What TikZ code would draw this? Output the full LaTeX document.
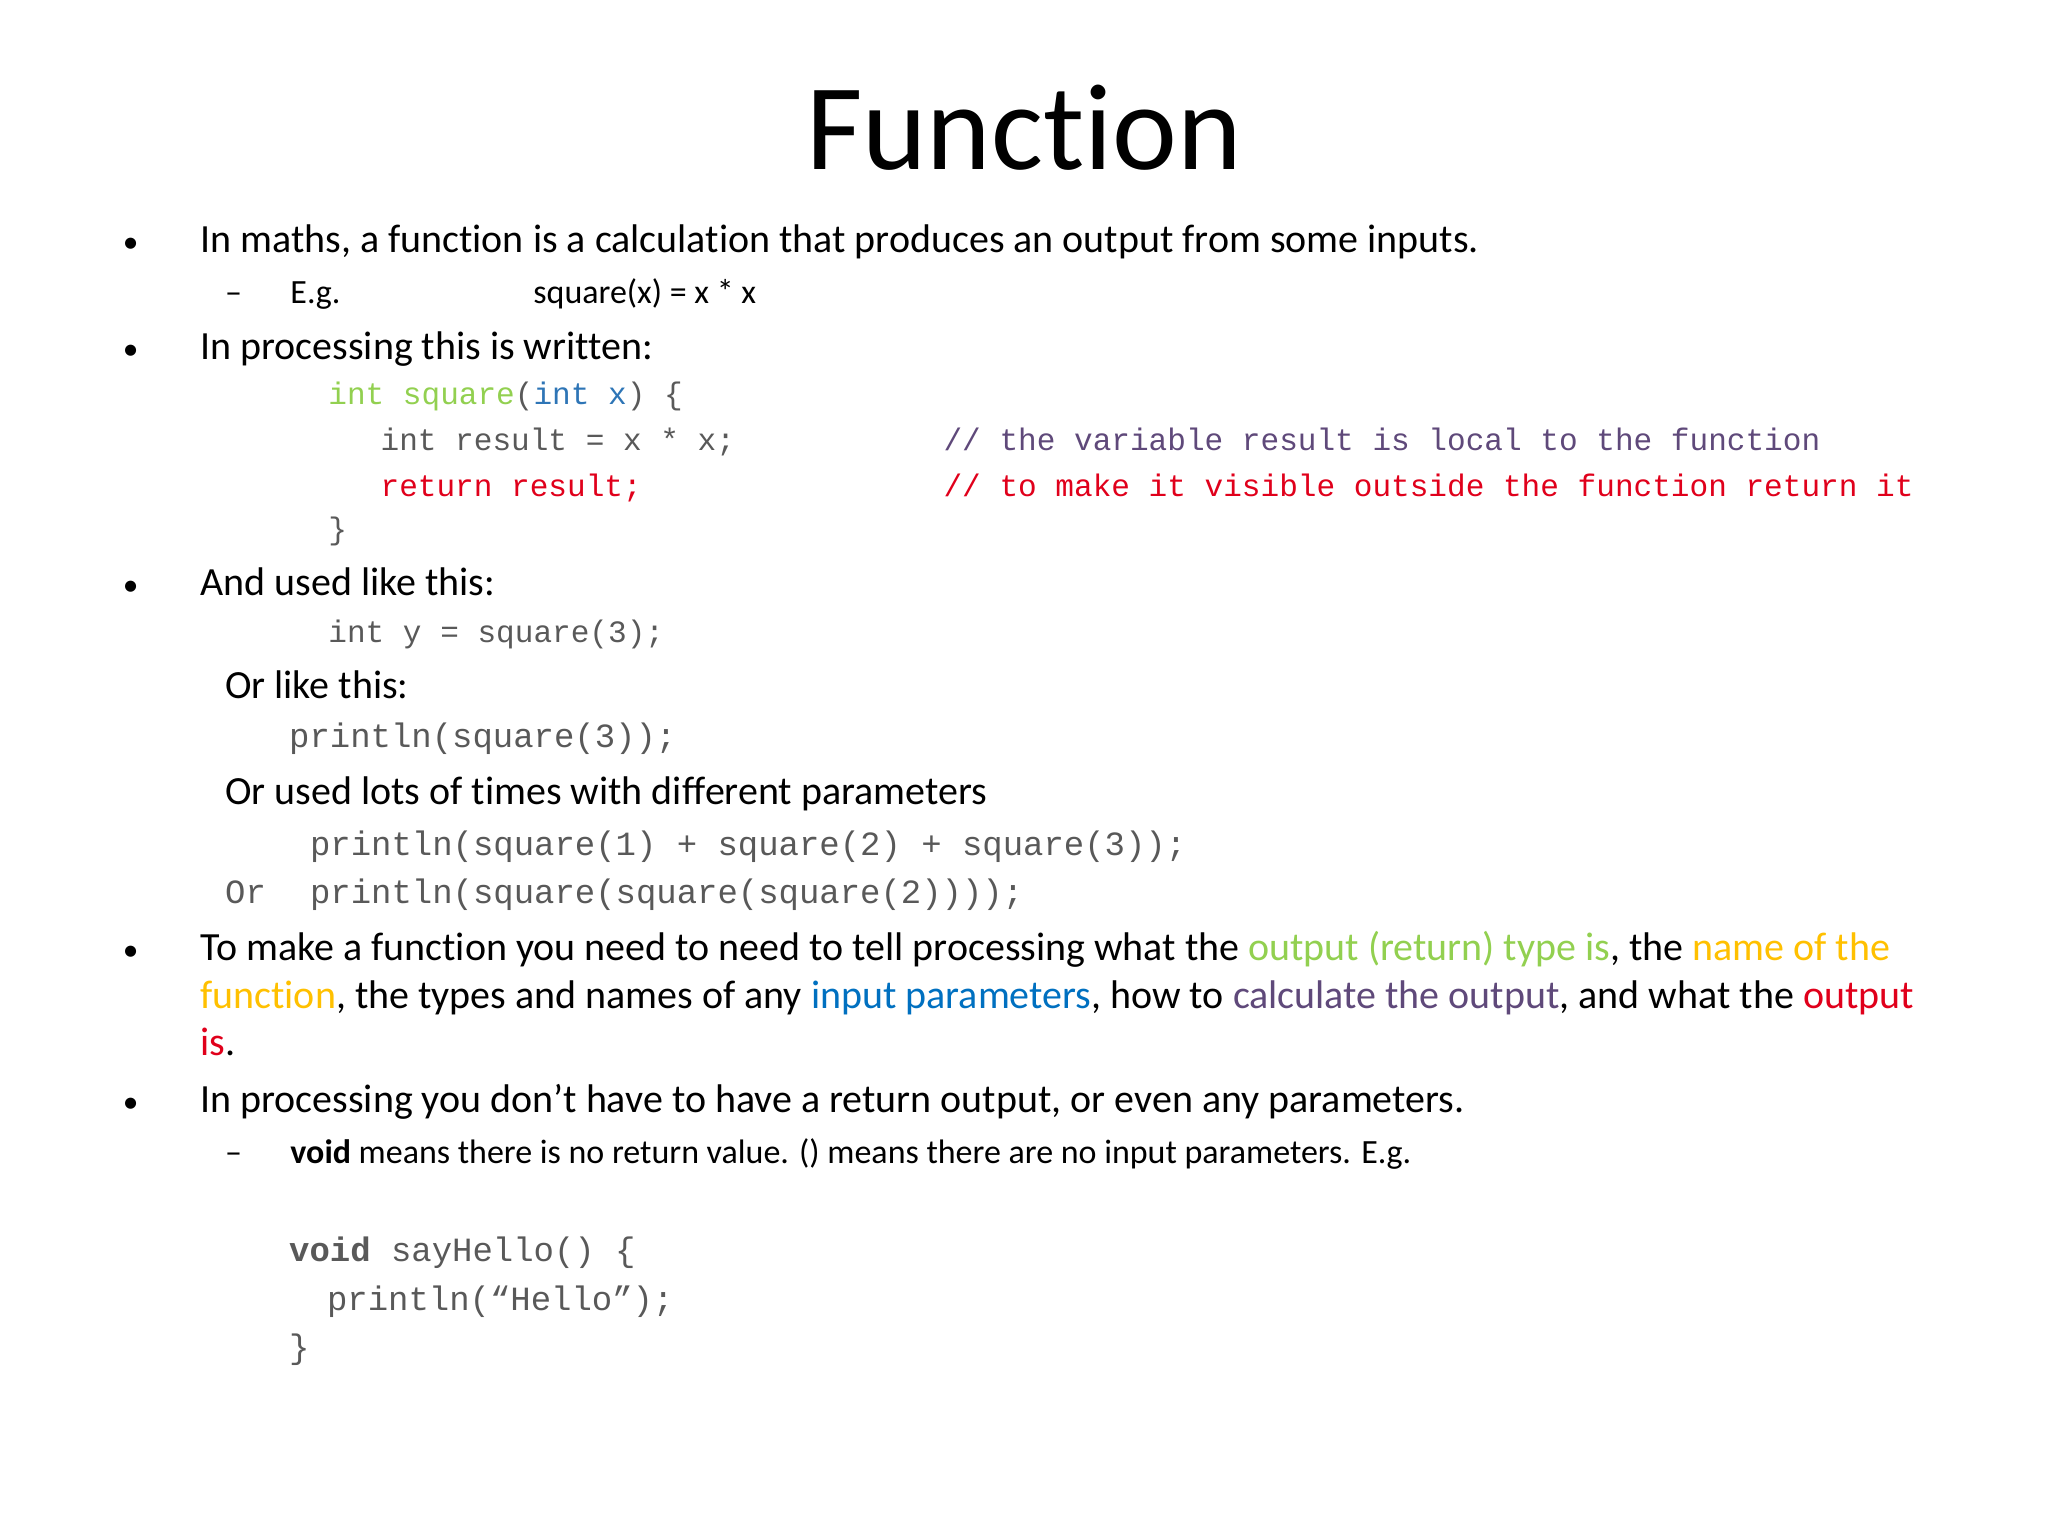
\documentclass[tikz,border=0pt]{standalone}
\usepackage{fontspec}
\setmainfont{Carlito}[Ligatures={NoCommon}]
\setmonofont{Liberation Mono}
\definecolor{cgreen}{HTML}{92D050}
\definecolor{cblue}{HTML}{2E75B6}
\definecolor{cgray}{HTML}{595959}
\definecolor{cpurple}{HTML}{5F497A}
\definecolor{cred}{HTML}{E0001B}
\definecolor{cyellow}{HTML}{FFC000}
\definecolor{cbody}{HTML}{0070C0}
\tikzset{
  txt/.style={anchor=base west, inner sep=0pt, font=\fontsize{15.3}{18}\selectfont},
  sub/.style={anchor=base west, inner sep=0pt, font=\fontsize{13}{15}\selectfont},
  code/.style={anchor=base west, inner sep=0pt, font=\ttfamily\fontsize{11.9}{14}\selectfont, text=cgray},
  bigcode/.style={anchor=base west, inner sep=0pt, font=\ttfamily\fontsize{13}{15}\selectfont, text=cgray},
  dot/.style={anchor=base, inner sep=0pt, font=\fontsize{12}{17}\selectfont}
}
\begin{document}
\begin{tikzpicture}[x=0.5pt, y=-0.5pt]
  \useasboundingbox (0,0) rectangle (1568,1176);
  \node[anchor=base, inner sep=0pt, font=\fontsize{47}{56}\selectfont] (title) at (784,130) {Function};

  \node[dot] (b1) at (100,193) {•};
  \node[txt] (maths) at (153,193) {In maths, a function is a calculation that produces an output from some inputs.};
  \node[sub] (d1) at (172,232) {–};
  \node[sub] (eg) at (222,232) {E.g.};
  \node[sub] (sq) at (408,232) {square(x) = x * x};

  \node[dot] (b2) at (100,275) {•};
  \node[txt] (proc) at (153,275) {In processing this is written:};
  \node[code] (c1) at (251,310) {\textcolor{cgreen}{int square}(\textcolor{cblue}{int x}) \{};
  \node[code] (c2) at (291,345) {int result = x * x;};
  \node[code, text=cpurple] (c2c) at (722,345) {// the variable result is local to the function};
  \node[code, text=cred] (c3) at (291,380) {return result;};
  \node[code, text=cred] (c3c) at (722,380) {// to make it visible outside the function return it};
  \node[code] (c4) at (251,413) {\}};

  \node[dot] (b3) at (100,456) {•};
  \node[txt] (used) at (153,456) {And used like this:};
  \node[code] (u1) at (251,492) {int y = square(3);};
  \node[txt] (orlike) at (172,535) {Or like this:};
  \node[bigcode] (u2) at (221,572) {println(square(3));};
  \node[txt] (orused) at (172,616) {Or used lots of times with different parameters};
  \node[bigcode] (u3) at (237,655) {println(square(1) + square(2) + square(3));};
  \node[bigcode] (u4or) at (172,692) {Or};
  \node[bigcode] (u4) at (237,692) {println(square(square(square(2))));};

  \node[dot] (b4) at (100,735) {•};
  \node[txt] (make1) at (153,735) {To make a function you need to need to tell processing what the \textcolor{cgreen}{output (return) type is}, the \textcolor{cyellow}{name of the}};
  \node[txt] (make2) at (153,772) {\textcolor{cyellow}{function}, the types and names of any \textcolor{cbody}{input parameters}, how to \textcolor{cpurple}{calculate the output}, and what the \textcolor{cred}{output}};
  \node[txt] (make3) at (153,808) {\textcolor{cred}{is}.};

  \node[dot] (b5) at (100,852) {•};
  \node[txt] (noret) at (153,852) {In processing you don’t have to have a return output, or even any parameters.};
  \node[sub] (d2) at (172,891) {–};
  \node[sub] (void) at (222,891) {\textbf{void} means there is no return value. () means there are no input parameters. E.g.};
  \node[bigcode] (v1) at (221,966) {\textbf{void} sayHello() \{};
  \node[bigcode] (v2) at (250,1003) {println(“Hello”);};
  \node[bigcode] (v3) at (221,1040) {\}};
\end{tikzpicture}
\end{document}
